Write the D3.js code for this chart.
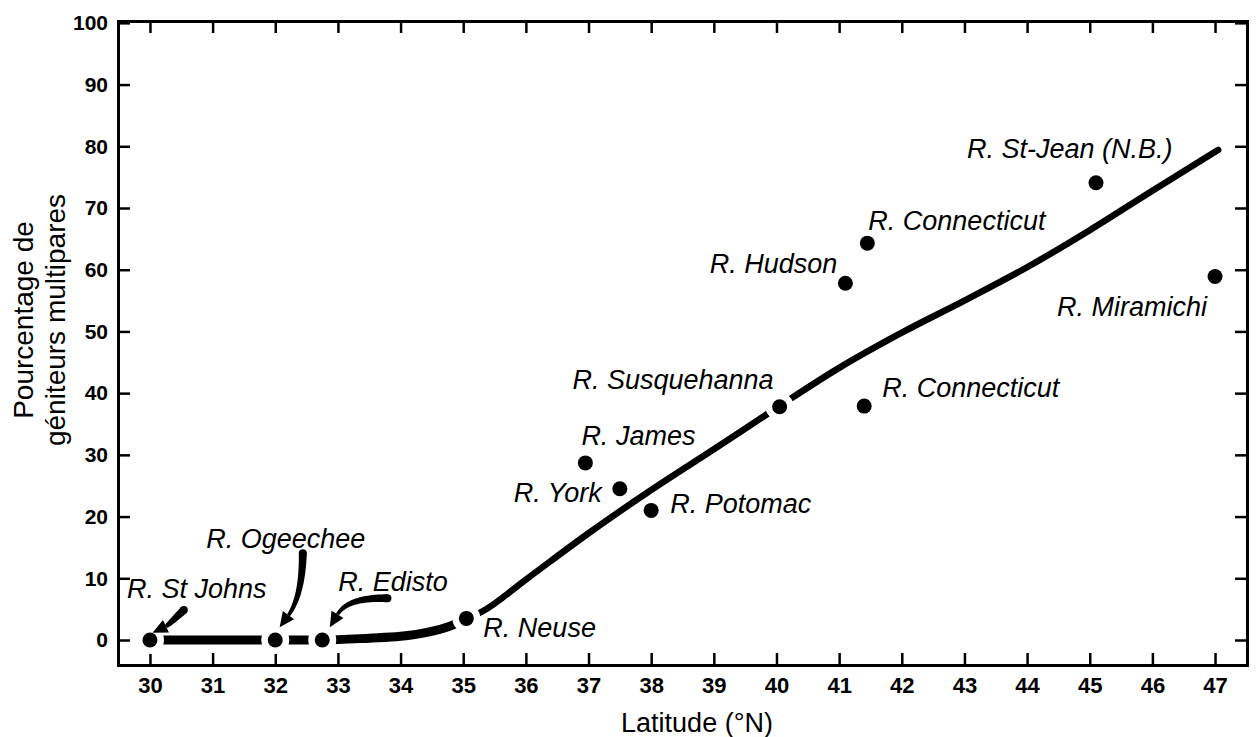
<!DOCTYPE html>
<html>
<head>
<meta charset="utf-8">
<script src="https://cdn.jsdelivr.net/npm/d3@7"></script>
<style>
  body { margin: 0; background: #fff; }
  svg { display: block; }
  text { font-family: "Liberation Sans", Arial, Helvetica, sans-serif; fill: #000; }
</style>
</head>
<body>
<svg id="chart" width="1256" height="737"></svg>
<script>
// ---- data ----
const latTicks = d3.range(30, 48);           // 30 … 47 °N
const pctTicks = d3.range(0, 101, 10);       // 0 … 100 %

const rivers = [
  "R. St Johns", "R. Ogeechee", "R. Edisto", "R. Neuse", "R. James", "R. York",
  "R. Potomac", "R. Susquehanna", "R. Hudson", "R. Connecticut", "R. Connecticut",
  "R. St-Jean (N.B.)", "R. Miramichi"
];
const latitudes   = [30, 32, 32.75, 35.05, 36.95, 37.5, 38, 40.05, 41.1, 41.45, 41.4, 45.1, 47];
const percentages = [0, 0, 0, 3.5, 28.7, 24.5, 21, 37.8, 57.8, 64.3, 37.9, 74.1, 58.9];

// rivers the fitted curve runs through (the curve is broken around them)
const onCurve = ["R. St Johns", "R. Ogeechee", "R. Edisto", "R. Neuse", "R. Susquehanna"];

// fitted trend: southern flat part and northern rising part
const trendSouthLat = [30, 31, 32, 32.75, 33.5, 34, 34.4, 34.8, 35.05];
const trendSouthPct = [0, 0, 0, 0, 0.3, 0.6, 1.2, 2.3, 3.5];
const trendNorthLat = [35.05, 35.3, 36, 37, 38, 39, 40, 41, 42, 43, 44, 45, 46, 47.05];
const trendNorthPct = [3.5, 4.6, 9.8, 17.3, 24.3, 30.9, 37.6, 44.1, 49.8, 55.0, 60.4, 66.4, 72.8, 79.4];

// pointer arrows (start, bend, tip) in latitude / percent
const arrowStart = [[30.54, 4.86], [32.44, 14.05], [33.79, 6.76]];
const arrowBend  = [[30.29, 2.39], [32.43, 7.08], [33.16, 6.94]];
const arrowTip   = [[30.04, 1.18], [32.07, 2.06], [32.87, 2.06]];

// ---- layout ----
const labelPlacement = [
  { anchor: "start", dx: -23, dy: -42 },
  { anchor: "start", dx: -69, dy: -92 },
  { anchor: "start", dx: 16,  dy: -49 },
  { anchor: "start", dx: 17,  dy: 19 },
  { anchor: "start", dx: -4,  dy: -18 },
  { anchor: "end",   dx: -18, dy: 13 },
  { anchor: "start", dx: 19,  dy: 3 },
  { anchor: "end",   dx: -6,  dy: -17.5 },
  { anchor: "end",   dx: -8,  dy: -10 },
  { anchor: "start", dx: 1,   dy: -13 },
  { anchor: "start", dx: 18,  dy: -9.5 },
  { anchor: "start", dx: -129, dy: -24.5 },
  { anchor: "end",   dx: -8,  dy: 39.5 }
];

const svg = d3.select("#chart");
const plotLeft = 118, plotRight = 1247, plotTop = 21, plotBottom = 665;

const x = d3.scaleLinear().domain([29.49, 47.51]).range([plotLeft, plotRight]);
const y = d3.scaleLinear().domain([-4.05, 100.3]).range([plotBottom, plotTop]);

// ---- frame & axes (ticks point inward on every side) ----
function styleAxis(g) {
  g.select(".domain").attr("stroke", "#000").attr("stroke-width", 3).attr("stroke-linecap", "square");
  g.selectAll(".tick line").attr("stroke", "#000").attr("stroke-width", 2.5);
  g.selectAll(".tick text").attr("fill", "#000").attr("font-weight", "bold")
    .attr("font-family", '"Liberation Sans", Arial, sans-serif');
}

svg.append("g").attr("transform", `translate(0,${plotBottom})`)
  .call(d3.axisBottom(x).tickValues(latTicks).tickFormat(d3.format("d"))
    .tickSizeInner(-12).tickSizeOuter(0).tickPadding(12))
  .call(styleAxis)
  .call(g => g.selectAll(".tick text").attr("font-size", 22));

svg.append("g").attr("transform", `translate(0,${plotTop})`)
  .call(d3.axisTop(x).tickValues(latTicks).tickFormat("")
    .tickSizeInner(-12).tickSizeOuter(0))
  .call(styleAxis);

svg.append("g").attr("transform", `translate(${plotLeft},0)`)
  .call(d3.axisLeft(y).tickValues(pctTicks).tickFormat(d3.format("d"))
    .tickSizeInner(-12).tickSizeOuter(0).tickPadding(10))
  .call(styleAxis)
  .call(g => g.selectAll(".tick text").attr("font-size", 21));

svg.append("g").attr("transform", `translate(${plotRight},0)`)
  .call(d3.axisRight(y).tickValues(pctTicks).tickFormat("")
    .tickSizeInner(-12).tickSizeOuter(0))
  .call(styleAxis);

// ---- axis titles ----
svg.append("text")
  .attr("x", 697).attr("y", 732)
  .attr("text-anchor", "middle").attr("font-size", 27)
  .text("Latitude (°N)");

const yTitle = svg.append("text")
  .attr("transform", "translate(33,320) rotate(-90)")
  .attr("text-anchor", "middle").attr("font-size", 28);
yTitle.append("tspan").attr("x", 0).attr("y", 0).text("Pourcentage de");
yTitle.append("tspan").attr("x", 0).attr("y", 32).text("géniteurs multipares");

// ---- fitted curve ----
const line = d3.line().x(d => x(d[0])).y(d => y(d[1])).curve(d3.curveMonotoneX);
const south = trendSouthLat.map((v, i) => [v, trendSouthPct[i]]);
const north = trendNorthLat.map((v, i) => [v, trendNorthPct[i]]);

svg.append("path").attr("d", line(south))
  .attr("fill", "none").attr("stroke", "#000").attr("stroke-width", 9).attr("stroke-linecap", "round");
svg.append("path").attr("d", line(north))
  .attr("fill", "none").attr("stroke", "#000").attr("stroke-width", 6.5).attr("stroke-linecap", "round");

// break the curve around the rivers lying on it
const pts = rivers.map((r, i) => ({ name: r, lat: latitudes[i], pct: percentages[i], lab: labelPlacement[i] }));
svg.append("g").selectAll("circle")
  .data(pts.filter(p => onCurve.includes(p.name)))
  .join("circle")
  .attr("cx", d => x(d.lat)).attr("cy", d => y(d.pct))
  .attr("r", 14).attr("fill", "#fff");

// ---- river points ----
svg.append("g").selectAll("circle")
  .data(pts)
  .join("circle")
  .attr("cx", d => x(d.lat)).attr("cy", d => y(d.pct))
  .attr("r", 7.5).attr("fill", "#000");

// ---- river labels ----
svg.append("g").selectAll("text")
  .data(pts)
  .join("text")
  .attr("x", d => x(d.lat) + d.lab.dx)
  .attr("y", d => y(d.pct) + d.lab.dy)
  .attr("text-anchor", d => d.lab.anchor)
  .attr("font-size", 27).attr("font-style", "italic")
  .text(d => d.name);

// ---- tapered pointer arrows ----
function arrowShapes(s, c, t) {
  const p0 = [x(s[0]), y(s[1])], p1 = [x(c[0]), y(c[1])], p2 = [x(t[0]), y(t[1])];
  const headLen = 15, headW = 7, w0 = 8, w1 = 3.5;
  let dx = p2[0] - p1[0], dy = p2[1] - p1[1];
  const dl = Math.hypot(dx, dy); dx /= dl; dy /= dl;
  const base = [p2[0] - dx * headLen, p2[1] - dy * headLen];
  const n = 40, leftSide = [], rightSide = [];
  for (let i = 0; i <= n; i++) {
    const u = i / n, a = (1 - u) * (1 - u), b = 2 * u * (1 - u), cc = u * u;
    const px = a * p0[0] + b * p1[0] + cc * base[0];
    const py = a * p0[1] + b * p1[1] + cc * base[1];
    let tx = 2 * (1 - u) * (p1[0] - p0[0]) + 2 * u * (base[0] - p1[0]);
    let ty = 2 * (1 - u) * (p1[1] - p0[1]) + 2 * u * (base[1] - p1[1]);
    const tl = Math.hypot(tx, ty) || 1; tx /= tl; ty /= tl;
    const w = (w0 + (w1 - w0) * u) / 2;
    leftSide.push([px - ty * w, py + tx * w]);
    rightSide.push([px + ty * w, py - tx * w]);
  }
  const shaft = leftSide.concat(rightSide.reverse());
  const head = [p2, [base[0] - dy * headW, base[1] + dx * headW], [base[0] + dy * headW, base[1] - dx * headW]];
  return { shaft, head, start: p0, r: w0 / 2 };
}

const arrows = arrowStart.map((s, i) => arrowShapes(s, arrowBend[i], arrowTip[i]));
const ag = svg.append("g");
ag.selectAll("path.shaft").data(arrows).join("path").attr("class", "shaft")
  .attr("d", d => "M" + d.shaft.join("L") + "Z").attr("fill", "#000");
ag.selectAll("path.head").data(arrows).join("path").attr("class", "head")
  .attr("d", d => "M" + d.head.join("L") + "Z").attr("fill", "#000");
ag.selectAll("circle").data(arrows).join("circle")
  .attr("cx", d => d.start[0]).attr("cy", d => d.start[1]).attr("r", d => d.r).attr("fill", "#000");
</script>
</body>
</html>
